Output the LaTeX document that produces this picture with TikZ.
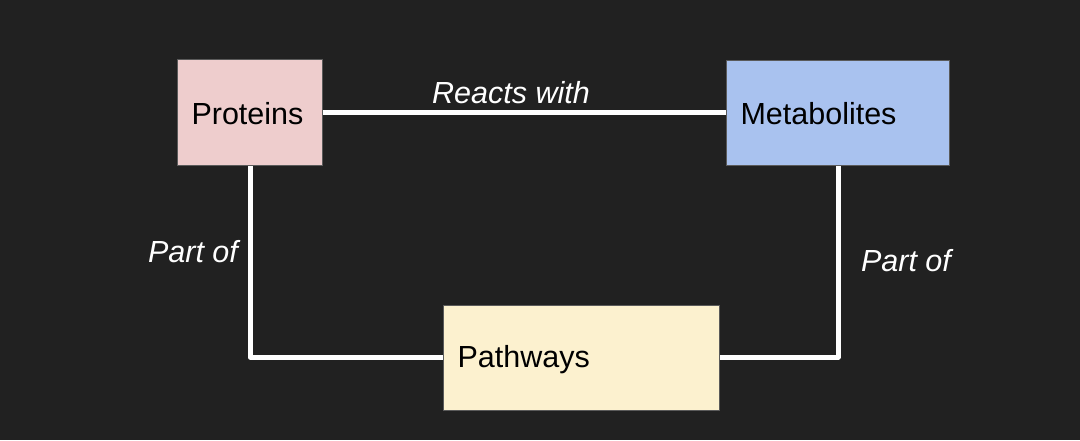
\documentclass[tikz,border=0pt]{standalone}
\usepackage{fontspec}
\setmainfont{Liberation Sans}
\begin{document}
\begin{tikzpicture}[x=1pt,y=-1pt,
  box/.style={draw=boxborder,line width=1.2pt,anchor=north west,inner sep=0pt},
  lbl/.style={font=\fontsize{30.5}{34}\selectfont,text=black,anchor=west},
  rel/.style={font=\fontsize{30.5}{34}\selectfont\itshape,text=white},
  conn/.style={draw=white,line width=5pt,line join=round}]
\definecolor{bg}{HTML}{212121}
\definecolor{boxborder}{HTML}{5A5A5A}
\definecolor{protc}{HTML}{EECDCD}
\definecolor{metac}{HTML}{A9C2EF}
\definecolor{pathc}{HTML}{FCF1CF}
\fill[bg] (0,0) rectangle (1080,440);
\useasboundingbox (0,0) rectangle (1080,440);
\node[box,fill=protc,minimum width=145pt,minimum height=106pt] (prot) at (177,59) {};
\node[box,fill=metac,minimum width=223pt,minimum height=105pt] (meta) at (726,60) {};
\node[box,fill=pathc,minimum width=276pt,minimum height=105pt] (path) at (443,305) {};
\node[lbl] (tprot) at ([xshift=11pt,yshift=-1pt]prot.west) {Proteins};
\node[lbl] (tmeta) at ([xshift=11pt]meta.west) {Metabolites};
\node[lbl] (tpath) at ([xshift=11pt,yshift=-2pt]path.west) {Pathways};
\coordinate (bl) at (250,357);
\coordinate (br) at (838,357);
\draw[conn] (prot.east) -- (meta.west |- prot.east);
\draw[conn] (prot.south -| bl) -- (bl) -- (path.west |- bl);
\draw[conn] (meta.south -| br) -- (br) -- (path.east |- br);
\node[rel] (lreact) at (511,93) {Reacts with};
\node[rel] (lpl) at (193,252) {Part of};
\node[rel] (lpr) at (906,261) {Part of};
\end{tikzpicture}
\end{document}
